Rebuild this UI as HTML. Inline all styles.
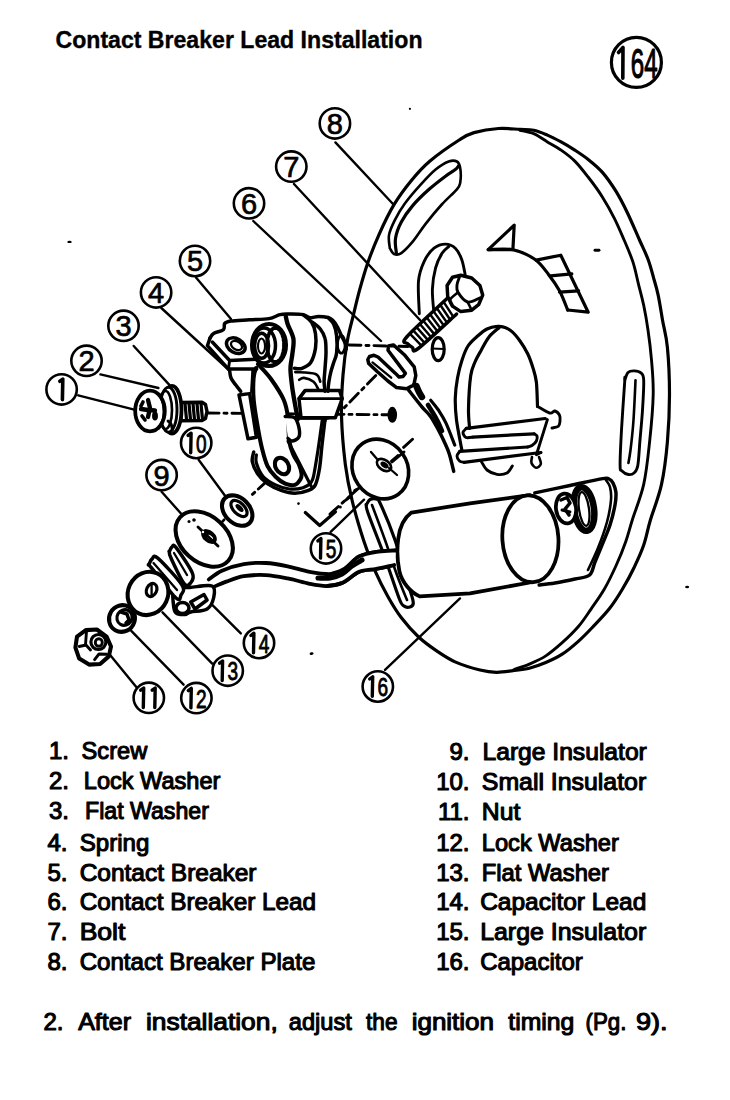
<!DOCTYPE html>
<html><head><meta charset="utf-8"><style>
html,body{margin:0;padding:0;background:#fff;}
svg{display:block;}
text{font-family:"Liberation Sans", sans-serif;fill:#000;stroke:#000;stroke-width:1.1px;stroke-linejoin:round;}
</style></head><body>
<svg width="730" height="1100" viewBox="0 0 730 1100">
<rect width="730" height="1100" fill="#fff"/>
<g stroke="#000" stroke-linecap="round" stroke-linejoin="round" fill="none">
<text x="55.5" y="48.3" font-size="23" font-weight="bold" textLength="367.0" lengthAdjust="spacingAndGlyphs" style="stroke-width:0.35px">Contact Breaker Lead Installation</text>
<circle cx="636.4" cy="62.4" r="25" stroke-width="3.2" fill="none"/>
<path d="M618.5,52.5 L623,47.5 L622.8,78.2" stroke-width="3.6" fill="none"/>
<text x="644.2" y="78.3" font-size="43" text-anchor="middle" transform="translate(644.2 0) scale(0.56 1) translate(-644.2 0)" style="stroke:#000;stroke-width:1.2">64</text>
<text x="49.0" y="758.7" font-size="24" font-weight="normal" text-anchor="start" >1.</text>
<text x="81.6" y="758.7" font-size="24" font-weight="normal" textLength="65.6" lengthAdjust="spacingAndGlyphs" >Screw</text>
<text x="49.0" y="788.9" font-size="24" font-weight="normal" text-anchor="start" >2.</text>
<text x="83.8" y="788.9" font-size="24" font-weight="normal" textLength="136.6" lengthAdjust="spacingAndGlyphs" >Lock Washer</text>
<text x="49.0" y="819.2" font-size="24" font-weight="normal" text-anchor="start" >3.</text>
<text x="85.0" y="819.2" font-size="24" font-weight="normal" textLength="123.9" lengthAdjust="spacingAndGlyphs" >Flat Washer</text>
<text x="47.5" y="850.6" font-size="24" font-weight="normal" text-anchor="start" >4.</text>
<text x="79.7" y="850.6" font-size="24" font-weight="normal" textLength="69.6" lengthAdjust="spacingAndGlyphs" >Spring</text>
<text x="47.5" y="880.6" font-size="24" font-weight="normal" text-anchor="start" >5.</text>
<text x="79.7" y="880.6" font-size="24" font-weight="normal" textLength="176.8" lengthAdjust="spacingAndGlyphs" >Contact Breaker</text>
<text x="47.5" y="910.4" font-size="24" font-weight="normal" text-anchor="start" >6.</text>
<text x="79.7" y="910.4" font-size="24" font-weight="normal" textLength="236.4" lengthAdjust="spacingAndGlyphs" >Contact Breaker Lead</text>
<text x="47.5" y="940.2" font-size="24" font-weight="normal" text-anchor="start" >7.</text>
<text x="79.7" y="940.2" font-size="24" font-weight="normal" textLength="45.7" lengthAdjust="spacingAndGlyphs" >Bolt</text>
<text x="47.5" y="970.1" font-size="24" font-weight="normal" text-anchor="start" >8.</text>
<text x="79.7" y="970.1" font-size="24" font-weight="normal" textLength="235.6" lengthAdjust="spacingAndGlyphs" >Contact Breaker Plate</text>
<text x="469.5" y="760.4" font-size="24" font-weight="normal" text-anchor="end" >9.</text>
<text x="482.5" y="760.4" font-size="24" font-weight="normal" textLength="164.3" lengthAdjust="spacingAndGlyphs" >Large Insulator</text>
<text x="469.5" y="789.6" font-size="24" font-weight="normal" text-anchor="end" >10.</text>
<text x="481.8" y="789.6" font-size="24" font-weight="normal" textLength="164.4" lengthAdjust="spacingAndGlyphs" >Small Insulator</text>
<text x="469.5" y="819.6" font-size="24" font-weight="normal" text-anchor="end" >11.</text>
<text x="481.8" y="819.6" font-size="24" font-weight="normal" textLength="38.5" lengthAdjust="spacingAndGlyphs" >Nut</text>
<text x="469.5" y="850.6" font-size="24" font-weight="normal" text-anchor="end" >12.</text>
<text x="481.8" y="850.6" font-size="24" font-weight="normal" textLength="137.1" lengthAdjust="spacingAndGlyphs" >Lock Washer</text>
<text x="469.5" y="880.8" font-size="24" font-weight="normal" text-anchor="end" >13.</text>
<text x="481.8" y="880.8" font-size="24" font-weight="normal" textLength="127.2" lengthAdjust="spacingAndGlyphs" >Flat Washer</text>
<text x="469.5" y="910.2" font-size="24" font-weight="normal" text-anchor="end" >14.</text>
<text x="480.2" y="910.2" font-size="24" font-weight="normal" textLength="166.1" lengthAdjust="spacingAndGlyphs" >Capacitor Lead</text>
<text x="469.5" y="940.2" font-size="24" font-weight="normal" text-anchor="end" >15.</text>
<text x="480.2" y="940.2" font-size="24" font-weight="normal" textLength="166.0" lengthAdjust="spacingAndGlyphs" >Large Insulator</text>
<text x="469.5" y="969.9" font-size="24" font-weight="normal" text-anchor="end" >16.</text>
<text x="480.2" y="969.9" font-size="24" font-weight="normal" textLength="102.5" lengthAdjust="spacingAndGlyphs" >Capacitor</text>
<text x="43.5" y="1030.1" font-size="24" font-weight="normal" text-anchor="start" >2.</text>
<text x="78.2" y="1030.1" font-size="24" font-weight="normal" textLength="52.8" lengthAdjust="spacingAndGlyphs" >After</text>
<text x="146.0" y="1030.1" font-size="24" font-weight="normal" textLength="131.7" lengthAdjust="spacingAndGlyphs" >installation,</text>
<text x="288.8" y="1030.1" font-size="24" font-weight="normal" textLength="63.0" lengthAdjust="spacingAndGlyphs" >adjust</text>
<text x="366.0" y="1030.1" font-size="24" font-weight="normal" textLength="31.5" lengthAdjust="spacingAndGlyphs" >the</text>
<text x="411.7" y="1030.1" font-size="24" font-weight="normal" textLength="82.3" lengthAdjust="spacingAndGlyphs" >ignition</text>
<text x="508.3" y="1030.1" font-size="24" font-weight="normal" textLength="66.0" lengthAdjust="spacingAndGlyphs" >timing</text>
<text x="585.5" y="1030.1" font-size="24" font-weight="normal" textLength="40.9" lengthAdjust="spacingAndGlyphs" >(Pg.</text>
<text x="635.9" y="1030.1" font-size="24" font-weight="normal" textLength="31.6" lengthAdjust="spacingAndGlyphs" >9).</text>
<line x1="335.4" y1="142.4" x2="393" y2="204" stroke-width="2.40" />
<line x1="294" y1="184" x2="420" y2="320" stroke-width="2.40" />
<line x1="253.3" y1="221" x2="381" y2="341" stroke-width="2.40" />
<line x1="196" y1="277.5" x2="231" y2="319" stroke-width="2.40" />
<line x1="161.3" y1="308" x2="229" y2="370" stroke-width="2.40" />
<line x1="133.7" y1="346" x2="174.4" y2="390.4" stroke-width="2.40" />
<line x1="100.4" y1="374.4" x2="158.4" y2="388" stroke-width="2.40" />
<line x1="78.2" y1="395.3" x2="136.2" y2="410.1" stroke-width="2.40" />
<line x1="198.6" y1="459.7" x2="225.8" y2="496.7" stroke-width="2.40" />
<line x1="161.6" y1="491.8" x2="181.4" y2="514" stroke-width="2.40" />
<line x1="330.7" y1="531.8" x2="364" y2="499.7" stroke-width="2.40" />
<line x1="240.8" y1="633.4" x2="207.7" y2="600.3" stroke-width="2.40" />
<line x1="212.2" y1="663.6" x2="162.5" y2="612.3" stroke-width="2.40" />
<line x1="183.6" y1="684.7" x2="130.8" y2="630.4" stroke-width="2.40" />
<line x1="136.9" y1="687.7" x2="109.7" y2="654.5" stroke-width="2.40" />
<line x1="385" y1="669.9" x2="460" y2="598.4" stroke-width="2.40" />
<circle cx="334.9" cy="123.4" r="15.2" stroke-width="2.6" fill="#fff"/>
<text x="334.9" y="133.8" font-size="29" text-anchor="middle" style="stroke:#000;stroke-width:0.7">8</text>
<circle cx="291.3" cy="166.6" r="15.2" stroke-width="2.6" fill="#fff"/>
<text x="291.3" y="177.0" font-size="29" text-anchor="middle" style="stroke:#000;stroke-width:0.7">7</text>
<circle cx="249" cy="203.3" r="15.2" stroke-width="2.6" fill="#fff"/>
<text x="249.0" y="213.7" font-size="29" text-anchor="middle" style="stroke:#000;stroke-width:0.7">6</text>
<circle cx="195" cy="261" r="15.2" stroke-width="2.6" fill="#fff"/>
<text x="195.0" y="271.4" font-size="29" text-anchor="middle" style="stroke:#000;stroke-width:0.7">5</text>
<circle cx="156.1" cy="292.4" r="15.2" stroke-width="2.6" fill="#fff"/>
<text x="156.1" y="302.8" font-size="29" text-anchor="middle" style="stroke:#000;stroke-width:0.7">4</text>
<circle cx="123.5" cy="325.8" r="15.2" stroke-width="2.6" fill="#fff"/>
<text x="123.5" y="336.2" font-size="29" text-anchor="middle" style="stroke:#000;stroke-width:0.7">3</text>
<circle cx="86.5" cy="360.8" r="15.2" stroke-width="2.6" fill="#fff"/>
<text x="86.5" y="371.2" font-size="29" text-anchor="middle" style="stroke:#000;stroke-width:0.7">2</text>
<circle cx="61.6" cy="389.4" r="15.2" stroke-width="2.6" fill="#fff"/>
<path d="M59.8,381.3 L62.8,379.1 L62.4,399.6" stroke-width="3.6" fill="none"/>
<circle cx="196.2" cy="443" r="15.2" stroke-width="2.6" fill="#fff"/>
<path d="M188.1,435.4 L191.1,433.2 L190.7,452.8" stroke-width="3.4" fill="none"/>
<text x="201.2" y="452.6" font-size="26.5" text-anchor="middle" transform="translate(201.2 0) scale(0.72 1) translate(-201.2 0)" style="stroke:#000;stroke-width:0.9">0</text>
<circle cx="161.6" cy="475.1" r="15.2" stroke-width="2.6" fill="#fff"/>
<text x="161.6" y="485.5" font-size="29" text-anchor="middle" style="stroke:#000;stroke-width:0.7">9</text>
<circle cx="326" cy="548.4" r="15.2" stroke-width="2.6" fill="#fff"/>
<path d="M317.9,540.9 L320.9,538.6 L320.5,558.1" stroke-width="3.4" fill="none"/>
<text x="331.0" y="558.0" font-size="26.5" text-anchor="middle" transform="translate(331.0 0) scale(0.72 1) translate(-331.0 0)" style="stroke:#000;stroke-width:0.9">5</text>
<circle cx="259" cy="643" r="15.2" stroke-width="2.6" fill="#fff"/>
<path d="M250.9,635.5 L253.9,633.2 L253.5,652.8" stroke-width="3.4" fill="none"/>
<text x="264.0" y="652.6" font-size="26.5" text-anchor="middle" transform="translate(264.0 0) scale(0.72 1) translate(-264.0 0)" style="stroke:#000;stroke-width:0.9">4</text>
<circle cx="227.7" cy="670.7" r="15.2" stroke-width="2.6" fill="#fff"/>
<path d="M219.6,663.2 L222.6,661.0 L222.2,680.5" stroke-width="3.4" fill="none"/>
<text x="232.7" y="680.3" font-size="26.5" text-anchor="middle" transform="translate(232.7 0) scale(0.72 1) translate(-232.7 0)" style="stroke:#000;stroke-width:0.9">3</text>
<circle cx="377.8" cy="686.5" r="15.2" stroke-width="2.6" fill="#fff"/>
<path d="M369.7,679.0 L372.7,676.8 L372.3,696.2" stroke-width="3.4" fill="none"/>
<text x="382.8" y="696.1" font-size="26.5" text-anchor="middle" transform="translate(382.8 0) scale(0.72 1) translate(-382.8 0)" style="stroke:#000;stroke-width:0.9">6</text>
<circle cx="148.8" cy="697.8" r="15.2" stroke-width="2.6" fill="#fff"/>
<path d="M140.7,690.2 L143.7,688.0 L143.3,707.5" stroke-width="3.4" fill="none"/>
<path d="M152.2,690.2 L155.2,688.0 L154.8,707.5" stroke-width="3.4" fill="none"/>
<circle cx="196.4" cy="698.1" r="15.2" stroke-width="2.6" fill="#fff"/>
<path d="M188.3,690.6 L191.3,688.4 L190.9,707.9" stroke-width="3.4" fill="none"/>
<text x="201.4" y="707.7" font-size="26.5" text-anchor="middle" transform="translate(201.4 0) scale(0.72 1) translate(-201.4 0)" style="stroke:#000;stroke-width:0.9">2</text>
<path d="M498.6,128.5 C506.3,128.0 514.1,129.1 520.0,129.4 C525.9,129.7 529.1,129.4 533.7,130.3 C538.3,131.2 542.8,133.2 547.4,135.1 C552.0,137.0 556.5,139.4 561.1,141.9 C565.7,144.4 570.2,147.1 574.8,150.1 C579.4,153.1 583.9,156.0 588.5,159.7 C593.1,163.4 597.6,166.8 602.2,172.1 C606.8,177.3 611.7,184.4 615.9,191.2 C620.1,198.0 623.6,204.9 627.5,213.0 C631.4,221.1 636.0,232.2 639.5,240.0 C643.0,247.8 645.8,253.3 648.2,259.7 C650.6,266.1 652.1,272.5 653.7,278.4 C655.4,284.2 656.6,287.9 658.1,294.8 C659.6,301.7 661.0,311.2 662.5,320.0 C664.0,328.8 666.2,334.9 667.4,347.3 C668.6,359.7 669.5,378.9 669.5,394.6 C669.5,410.4 668.7,426.8 667.4,441.8 C666.1,456.8 664.3,471.4 661.5,484.4 C658.7,497.4 653.4,509.9 650.4,520.0 C647.4,530.0 646.5,536.8 643.8,544.7 C641.1,552.7 637.5,560.3 634.0,567.7 C630.5,575.1 626.6,582.1 622.5,589.0 C618.4,595.9 614.4,602.3 609.3,608.8 C604.2,615.3 596.9,622.6 591.8,628.0 C586.7,633.4 583.5,636.7 578.6,641.1 C573.7,645.5 567.7,650.6 562.2,654.2 C556.7,657.8 551.3,660.2 545.8,662.5 C540.3,664.8 534.8,666.8 529.3,668.2 C523.8,669.6 518.4,670.0 512.9,670.7 C507.4,671.4 501.9,672.4 496.4,672.3 C490.9,672.2 486.9,671.7 480.0,670.0 C473.1,668.3 462.5,665.2 455.1,661.9 C447.8,658.6 442.0,654.5 435.9,650.4 C429.8,646.2 424.4,642.4 418.6,637.0 C412.9,631.6 406.5,624.5 401.4,617.8 C396.3,611.1 392.3,604.4 388.0,596.7 C383.7,589.0 379.5,581.0 375.5,571.8 C371.5,562.6 367.9,553.6 364.0,541.6 C360.1,529.6 355.1,512.9 352.0,500.0 C348.9,487.1 347.1,478.3 345.3,464.3 C343.6,450.3 341.9,430.9 341.5,416.0 C341.1,401.1 342.0,387.7 343.0,375.0 C344.0,362.3 345.7,350.1 347.5,340.0 C349.3,329.9 351.6,322.6 353.6,314.2 C355.6,305.8 357.3,298.3 359.7,289.6 C362.1,280.9 364.8,271.3 368.0,262.2 C371.2,253.1 374.6,244.4 378.9,234.8 C383.2,225.2 388.5,213.8 394.0,204.7 C399.5,195.6 405.8,187.3 411.8,180.0 C417.8,172.7 422.1,167.7 430.0,161.0 C437.9,154.3 451.9,144.7 459.2,140.0 C466.5,135.3 467.4,134.5 474.0,132.6 C480.6,130.7 490.9,129.0 498.6,128.5Z" stroke-width="3.19" fill="none" />
<path d="M520.0,130.3 C522.3,130.9 529.1,131.8 533.7,133.7 C538.3,135.6 542.8,139.2 547.4,141.9 C552.0,144.6 556.5,146.9 561.1,150.1 C565.7,153.3 570.2,156.5 574.8,161.1 C579.4,165.7 583.9,171.6 588.5,177.5 C593.1,183.4 597.9,189.8 602.2,196.7 C606.5,203.5 610.9,211.4 614.5,218.6 C618.1,225.8 621.0,232.8 624.1,240.0 C627.2,247.2 630.5,254.6 632.9,261.9 C635.3,269.2 636.6,276.5 638.4,283.8 C640.2,291.1 642.2,298.1 643.8,305.8 C645.4,313.5 646.7,321.0 648.0,330.0 C649.3,339.0 650.6,349.2 651.5,360.0 C652.4,370.8 653.5,381.0 653.2,394.6 C652.9,408.2 651.2,426.8 649.6,441.8 C648.0,456.8 646.6,471.4 643.7,484.4 C640.8,497.4 635.3,510.5 632.3,520.0 C629.3,529.5 628.5,533.7 625.8,541.4 C623.1,549.1 619.5,558.1 615.9,566.0 C612.3,573.9 608.5,581.9 604.4,589.0 C600.3,596.1 595.5,602.6 591.2,608.8 C586.9,615.0 583.4,620.6 578.6,626.3 C573.8,631.9 567.7,637.8 562.2,642.7 C556.7,647.6 551.3,652.3 545.8,655.9 C540.3,659.5 534.6,661.8 529.3,664.1 C524.0,666.4 516.5,668.6 514.0,669.5" stroke-width="2.90" fill="none" />
<path d="M389.8,248.2 C389.7,246.0 388.2,239.7 389.0,235.1 C389.8,230.5 392.1,225.6 394.7,220.4 C397.3,215.2 400.1,210.0 404.5,204.0 C408.9,198.0 415.7,190.1 420.9,184.4 C426.1,178.7 431.0,173.4 435.6,169.6 C440.2,165.8 445.1,162.8 448.7,161.5 C452.2,160.2 455.0,160.4 456.9,161.5 C458.8,162.6 459.6,164.5 460.2,168.0 C460.8,171.5 460.8,179.1 460.2,182.7 C459.6,186.2 459.9,185.8 456.9,189.3 C453.9,192.9 447.4,198.3 442.2,204.0 C437.0,209.7 430.7,217.3 425.8,223.6 C420.9,229.9 416.8,236.8 412.7,241.7 C408.6,246.6 404.4,251.0 401.3,253.1 C398.2,255.2 395.9,254.8 394.0,254.0 C392.1,253.2 390.5,249.2 389.8,248.2" stroke-width="2.61" fill="none" />
<path d="M396.4,253.1 C396.2,250.7 394.7,243.6 395.5,238.4 C396.3,233.2 398.4,227.5 401.3,222.0 C404.2,216.5 408.1,211.0 412.7,205.6 C417.3,200.2 423.6,194.2 429.1,189.3 C434.6,184.4 441.1,179.5 445.5,176.2 C449.9,172.9 453.1,171.3 455.3,169.6 C457.5,167.9 458.0,166.6 458.5,166.0" stroke-width="3.19" fill="none" />
<path d="M419.3,313.7 C419.2,308.2 417.7,289.7 418.5,281.0 C419.3,272.3 421.6,266.8 424.2,261.3 C426.8,255.8 430.4,251.1 434.0,248.2 C437.6,245.3 441.9,244.1 445.5,244.1 C449.1,244.1 452.6,245.6 455.3,248.2 C458.0,250.8 460.2,255.3 461.8,259.7 C463.4,264.1 464.6,271.9 465.1,274.4" stroke-width="2.90" fill="none" />
<path d="M434.0,313.7 C433.7,309.6 432.1,296.8 432.4,289.1 C432.7,281.5 434.0,273.8 435.6,267.8 C437.2,261.8 440.0,256.6 442.2,253.1 C444.4,249.6 447.6,247.7 448.7,246.6" stroke-width="2.90" fill="none" />
<path d="M488.2,249.7 L514.2,225.1 L512.9,249.7Z" stroke-width="3.19" fill="none" />
<path d="M488.2,249.7 C492.3,249.7 505.1,248.1 512.9,249.7 C520.7,251.3 528.9,255.2 534.8,259.3 C540.7,263.4 544.4,269.1 548.5,274.4 C552.6,279.6 556.3,284.9 559.5,290.8 C562.7,296.7 566.3,306.8 567.7,310.0" stroke-width="3.19" fill="none" />
<path d="M536.2,260.1 L560.8,255.2 L588.2,312.2 L567.7,310.0" stroke-width="3.19" fill="none" />
<line x1="550.7" y1="275.8" x2="571.8" y2="273.8" stroke-width="3.19" />
<line x1="559.5" y1="292.2" x2="578.6" y2="290.8" stroke-width="3.19" />
<line x1="595" y1="250.3" x2="599" y2="250.3" stroke-width="2.90" />
<path d="M624.8,380.4 C625.3,379.1 626.4,374.1 628.0,372.5 C629.6,370.9 632.1,370.8 634.3,370.9 C636.5,371.0 639.4,371.4 641.0,373.0 C642.6,374.6 643.5,374.2 643.7,380.4 C644.0,386.6 643.1,400.1 642.5,410.0 C641.9,419.9 640.8,430.8 640.0,440.0 C639.2,449.2 638.8,460.0 637.8,465.5 C636.8,471.0 635.6,471.5 634.0,473.0 C632.4,474.5 630.4,474.8 628.4,474.5 C626.4,474.2 623.4,472.5 622.0,471.0 C620.6,469.5 620.2,472.3 620.1,465.5 C620.0,458.7 620.7,444.2 621.5,430.0 C622.3,415.8 624.2,388.7 624.8,380.4 C625.3,372.1 624.3,381.7 624.8,380.4Z" stroke-width="2.90" fill="none" />
<path d="M635.5,380.4 C635.2,387.0 634.3,408.4 633.5,420.0 C632.7,431.6 631.4,442.8 630.5,450.0 C629.6,457.2 628.8,460.8 628.4,463.0" stroke-width="2.61" fill="none" />
<path d="M461.9,450.3 C461.0,445.2 457.6,428.8 456.5,420.0 C455.4,411.2 455.1,404.7 455.3,397.7 C455.5,390.7 456.4,384.2 457.5,378.0 C458.6,371.8 460.1,365.7 461.9,360.4 C463.6,355.1 465.4,350.0 468.0,346.0 C470.6,342.0 474.1,339.1 477.3,336.3 C480.5,333.5 483.7,330.6 487.0,329.0 C490.3,327.4 494.0,326.6 497.0,326.4 C500.0,326.1 502.4,326.6 505.0,327.5 C507.6,328.4 509.8,329.6 512.3,331.9 C514.8,334.1 517.4,337.4 520.0,341.0 C522.6,344.6 525.5,349.3 527.7,353.8 C529.9,358.3 531.5,363.2 533.0,368.0 C534.5,372.8 535.6,375.9 536.4,382.3 C537.1,388.7 537.3,402.4 537.5,406.4" stroke-width="3.19" fill="none" />
<path d="M499.2,327.5 C497.5,329.1 491.9,333.3 489.0,337.0 C486.1,340.7 483.9,345.3 481.6,349.5 C479.3,353.7 476.8,357.6 475.0,362.0 C473.2,366.4 471.8,368.0 470.7,375.8 C469.6,383.6 468.7,399.8 468.5,408.6 C468.3,417.4 469.4,425.1 469.6,428.4" stroke-width="3.19" fill="none" />
<path d="M537.5,406.4 C539.5,407.5 546.7,412.2 549.6,413.0 C552.5,413.8 553.4,410.6 555.0,411.0 C556.6,411.4 558.7,413.5 559.5,415.2 C560.3,416.9 560.2,419.2 560.0,421.0 C559.8,422.8 559.7,425.0 558.4,426.2 C557.1,427.4 553.1,427.7 552.0,428.0" stroke-width="2.90" fill="none" />
<path d="M466.3,428.4 L545.2,418.5" stroke-width="3.19" fill="none" />
<path d="M472.9,437.1 L534.2,433.8" stroke-width="3.19" fill="none" />
<path d="M466.3,428.4 C465.8,429.1 463.1,431.0 463.0,432.5 C462.9,434.0 464.4,436.7 466.0,437.5 C467.6,438.3 471.8,437.2 472.9,437.1" stroke-width="2.90" fill="none" />
<path d="M534.2,433.8 C534.7,434.2 536.6,434.8 537.0,436.0 C537.4,437.2 537.2,439.4 536.4,441.0 C535.6,442.6 533.5,444.5 532.0,445.5 C530.5,446.5 528.4,446.8 527.7,447.0" stroke-width="2.90" fill="none" />
<path d="M459.7,451.4 L527.7,447.0" stroke-width="3.19" fill="none" />
<path d="M464.1,462.3 L540.8,452.5" stroke-width="3.19" fill="none" />
<path d="M459.7,451.4 C459.2,452.2 457.0,454.4 457.0,456.0 C457.0,457.6 458.3,459.9 459.5,461.0 C460.7,462.1 463.3,462.1 464.1,462.3" stroke-width="2.90" fill="none" />
<path d="M547.4,419.6 L536.4,454.7 L540.8,452.5" stroke-width="2.90" fill="none" />
<path d="M481.6,462.0 C482.5,463.3 484.4,467.9 487.0,470.0 C489.6,472.1 493.7,473.9 497.0,474.4 C500.3,474.9 504.4,474.4 507.0,473.0 C509.6,471.6 511.4,467.2 512.3,466.0" stroke-width="2.90" fill="none" />
<path d="M532.0,457.0 C531.9,458.0 530.8,461.2 531.5,463.0 C532.2,464.8 534.5,467.6 536.0,467.8 C537.5,468.0 540.3,465.8 540.8,464.0 C541.3,462.2 539.3,458.2 539.0,457.0" stroke-width="2.61" fill="none" />
<path d="M447.0,298.6 C440.3,305.0 413.2,329.5 406.7,337.0 C400.1,344.5 406.7,341.9 407.7,343.7 C408.7,345.4 410.8,346.7 412.5,347.5 C414.2,348.3 410.8,354.1 418.2,348.5 C425.6,342.9 450.2,319.8 456.6,314.0" stroke-width="3.48" fill="#fff" />
<line x1="443.6" y1="301.8" x2="453.4" y2="316.9" stroke-width="2.46" />
<line x1="440.3" y1="305.0" x2="450.2" y2="319.8" stroke-width="2.46" />
<line x1="436.9" y1="308.2" x2="447.0" y2="322.6" stroke-width="2.46" />
<line x1="433.6" y1="311.4" x2="443.8" y2="325.5" stroke-width="2.46" />
<line x1="430.2" y1="314.6" x2="440.6" y2="328.4" stroke-width="2.46" />
<line x1="426.9" y1="317.8" x2="437.4" y2="331.2" stroke-width="2.46" />
<line x1="423.5" y1="321.0" x2="434.2" y2="334.1" stroke-width="2.46" />
<line x1="420.1" y1="324.2" x2="431.0" y2="337.0" stroke-width="2.46" />
<line x1="416.8" y1="327.4" x2="427.8" y2="339.9" stroke-width="2.46" />
<line x1="413.4" y1="330.6" x2="424.6" y2="342.8" stroke-width="2.46" />
<line x1="410.1" y1="333.8" x2="421.4" y2="345.6" stroke-width="2.46" />
<path d="M447.1,285.5 L452.5,277.3 L460.8,275.3 L471.7,278.0 L479.9,285.5 L482.7,295.1 L478.6,304.7 L471.7,310.2 L460.8,311.6 L452.5,306.1 L447.7,296.5Z" stroke-width="3.48" fill="#fff" />
<path d="M459.4,277.3 C459.0,278.6 457.2,282.5 457.0,285.0 C456.8,287.5 456.2,289.6 458.0,292.4 C459.8,295.2 463.9,301.1 467.6,302.0 C471.3,302.9 477.9,298.6 480.0,297.9" stroke-width="2.90" fill="none" />
<path d="M458.0,292.4 C456.7,293.7 450.9,297.7 450.0,300.0 C449.1,302.3 452.1,305.1 452.5,306.1" stroke-width="2.61" fill="none" />
<line x1="467.6" y1="302" x2="471.7" y2="310.2" stroke-width="2.61" />
<ellipse cx="438.2" cy="349.2" rx="6" ry="11.5" transform="rotate(0 438.2 349.2)" stroke-width="3.19" fill="none" />
<line x1="432" y1="348.5" x2="444" y2="349" stroke-width="2.03" />
<path d="M408.8,390.3 C411.0,393.1 418.2,402.4 421.9,406.8 C425.5,411.2 427.9,412.8 430.7,416.6 C433.4,420.4 436.2,425.8 438.4,429.8 C440.6,433.8 442.0,436.8 443.8,440.8 C445.6,444.8 447.7,448.8 449.3,453.9 C450.9,459.0 453.0,468.5 453.7,471.4" stroke-width="3.48" fill="none" />
<path d="M430.7,400.2 C432.0,401.8 435.8,406.2 438.4,410.0 C440.9,413.8 443.3,417.3 446.0,423.2 C448.7,429.1 453.3,441.5 454.8,445.1" stroke-width="3.19" fill="none" />
<path d="M416.4,386.0 C416.8,387.0 418.1,390.2 419.0,392.0 C419.9,393.8 421.4,396.1 421.9,396.9" stroke-width="6.52" fill="none" />
<path d="M428.0,405.0 C428.8,406.3 431.3,410.2 433.0,413.0 C434.7,415.8 436.5,419.0 438.0,422.0 C439.5,425.0 441.3,429.5 442.0,431.0" stroke-width="4.64" fill="none" />
<path d="M369.5,356.5 L374.0,355.3 L378.0,357.0 L395.5,373.4 L399.0,377.0 L403.0,376.5 L405.4,373.4 L388.0,350.3 L388.5,346.0 L393.4,344.9 L404.3,354.7 L414.2,366.8 L415.8,375.5 L414.2,383.2 L413.1,385.4 L406.5,388.7 L396.6,387.6 L387.9,381.0 L376.9,371.2 L368.7,363.5 L367.8,359.5Z" stroke-width="3.48" fill="#fff" />
<line x1="372.5" y1="362.4" x2="391.2" y2="377.7" stroke-width="2.32" />
<line x1="389.5" y1="352.5" x2="402.1" y2="369" stroke-width="2.32" />
<line x1="207" y1="413" x2="392" y2="414.8" stroke-width="2.90" stroke-dasharray="12 5 3 5"/>
<line x1="349" y1="345" x2="408" y2="346.5" stroke-width="2.90" stroke-dasharray="12 5 3 5"/>
<line x1="412.5" y1="439.3" x2="330" y2="514.1" stroke-width="2.90" stroke-dasharray="12 5 3 5"/>
<line x1="375.8" y1="375.5" x2="341.5" y2="410.5" stroke-width="2.90" stroke-dasharray="12 5 3 5"/>
<line x1="322.7" y1="430.4" x2="250.4" y2="496.2" stroke-width="2.90" stroke-dasharray="12 5 3 5"/>
<ellipse cx="392.3" cy="414.8" rx="4.8" ry="8" transform="rotate(0 392.3 414.8)" stroke-width="0.00" fill="#000" />
<path d="M324.9,420.5 C324.4,424.6 322.9,437.0 322.0,445.0 C321.1,453.0 320.6,461.9 319.5,468.5 C318.4,475.1 317.1,481.2 315.3,484.9 C313.5,488.5 311.9,489.0 308.5,490.4 C305.1,491.8 299.4,493.2 294.8,493.2 C290.2,493.2 285.7,492.0 281.1,490.4 C276.5,488.8 271.3,486.3 267.4,483.6 C263.5,480.9 260.3,477.7 257.8,474.0 C255.3,470.3 253.0,465.3 252.3,461.6 C251.6,457.9 253.5,453.6 253.7,452.0" stroke-width="3.48" fill="#fff" />
<path d="M322.2,420.5 C321.5,425.4 319.4,441.1 318.0,450.0 C316.6,458.9 315.1,468.6 314.0,474.0 C312.9,479.4 313.0,479.9 311.2,482.2 C309.4,484.5 306.6,486.6 303.0,487.7 C299.4,488.8 293.9,489.5 289.3,489.0 C284.7,488.5 279.9,486.9 275.6,484.9 C271.3,482.8 266.5,480.3 263.3,476.7 C260.1,473.1 257.5,466.6 256.4,463.0 C255.2,459.4 256.4,456.2 256.4,454.8" stroke-width="3.19" fill="none" />
<path d="M258.0,364.2 C260.2,366.7 266.7,373.0 271.0,379.0 C275.3,385.0 281.0,393.5 283.8,400.0 C286.6,406.5 287.1,410.9 288.0,417.8 C288.9,424.7 288.4,434.9 289.3,441.1 C290.2,447.3 291.8,450.9 293.4,454.8 C295.0,458.7 297.5,461.2 298.9,464.4 C300.3,467.6 301.4,471.5 301.6,474.0 C301.8,476.5 301.4,477.7 300.3,479.5 C299.2,481.3 297.3,484.2 294.8,484.9 C292.3,485.6 288.4,485.0 285.2,483.6 C282.0,482.2 278.6,479.7 275.6,476.7 C272.6,473.7 269.7,470.6 267.4,465.8 C265.1,461.0 263.5,454.4 261.9,448.0 C260.3,441.6 259.2,435.4 257.8,427.4 C256.4,419.4 254.4,408.2 253.7,400.0 C253.0,391.8 253.2,383.3 253.6,378.0 C254.0,372.7 255.6,369.7 256.0,368.0" stroke-width="4.06" fill="#fff" />
<ellipse cx="282" cy="466" rx="6.5" ry="8.8" transform="rotate(-30 282 466)" stroke-width="4.06" fill="none" />
<path d="M288.0,441.1 L311.2,486.3" stroke-width="3.19" fill="none" />
<path d="M239.0,395.0 L249.6,393.6 L256.4,437.3 L248.0,438.8Z" stroke-width="3.48" fill="#fff" />
<path d="M324.9,420.5 L327.9,391.3" stroke-width="3.48" fill="none" />
<line x1="294.8" y1="417.8" x2="327.7" y2="417.8" stroke-width="3.77" />
<path d="M294.8,419.2 L297.8,419.2" stroke-width="2.17" fill="none" />
<path d="M285.2,416.4 C286.8,416.6 292.5,416.0 294.8,417.8 C297.1,419.6 298.2,424.2 298.9,427.4 C299.6,430.6 300.0,434.7 298.9,437.0 C297.8,439.3 293.8,440.9 292.0,441.1 C290.2,441.3 288.7,438.8 288.0,438.4" stroke-width="3.48" fill="#fff" />
<path d="M305.2,390.4 L339.5,390.4 L342.2,398.6 L335.3,417.8 L301.0,417.8 L299.0,398.6Z" stroke-width="3.48" fill="#fff" />
<line x1="299" y1="398.6" x2="342.2" y2="398.6" stroke-width="2.90" />
<line x1="305.2" y1="390.4" x2="299" y2="398.6" stroke-width="2.61" />
<path d="M209.9,338.3 C210.5,337.5 211.3,334.8 213.6,333.4 C215.8,332.0 221.6,331.3 223.4,329.7 C225.2,328.1 223.5,324.9 224.7,323.5 C225.9,322.1 226.7,321.6 230.8,321.0 C234.9,320.4 242.9,320.2 249.3,319.8 C255.7,319.4 263.9,319.5 269.0,318.6 C274.1,317.7 276.6,315.4 280.0,314.6 C283.4,313.9 285.8,314.1 289.6,314.1 C293.4,314.1 299.8,314.0 303.0,314.6 C306.2,315.2 307.2,317.0 308.8,317.5 C310.4,318.0 311.0,317.7 312.6,317.5 C314.2,317.3 315.8,316.5 318.4,316.5 C321.0,316.5 325.6,316.9 328.0,317.5 C330.4,318.1 331.1,318.7 332.7,320.3 C334.3,321.9 336.1,324.4 337.5,327.0 C338.9,329.6 340.1,333.0 341.4,335.7 C342.7,338.4 344.4,341.2 345.2,343.4 C346.0,345.6 346.0,348.2 346.2,349.1" stroke-width="3.48" fill="none" />
<path d="M209.9,338.3 L207.4,345.7 L228.4,369.1 L256.7,369.1" stroke-width="3.48" fill="none" />
<path d="M212.3,342.0 L229.6,360.5 L256.7,359.2" stroke-width="3.48" fill="none" />
<line x1="228.4" y1="369.1" x2="229.6" y2="360.5" stroke-width="2.90" />
<path d="M229.6,370.3 C229.8,371.6 230.0,375.5 231.0,378.0 C232.0,380.5 234.2,382.9 235.8,385.1 C237.4,387.3 239.9,390.3 240.7,391.3" stroke-width="3.48" fill="none" />
<path d="M253.0,370.3 C252.9,371.9 252.7,376.5 252.5,380.0 C252.3,383.5 251.9,389.4 251.8,391.3" stroke-width="3.48" fill="none" />
<ellipse cx="235.8" cy="345.7" rx="10" ry="7" transform="rotate(30 235.8 345.7)" stroke-width="3.48" fill="none" />
<ellipse cx="236.5" cy="345.5" rx="6" ry="4" transform="rotate(30 236.5 345.5)" stroke-width="2.32" fill="none" />
<ellipse cx="269" cy="345" rx="17" ry="21" transform="rotate(0 269 345)" stroke-width="4.06" fill="#fff" />
<ellipse cx="275.5" cy="345" rx="8.5" ry="17" transform="rotate(0 275.5 345)" stroke-width="3.77" fill="none" stroke-dasharray="2.2 1.8"/>
<ellipse cx="264" cy="345.5" rx="11.5" ry="17.5" transform="rotate(0 264 345.5)" stroke-width="3.48" fill="none" />
<ellipse cx="261.6" cy="345.8" rx="7" ry="12.5" transform="rotate(0 261.6 345.8)" stroke-width="3.48" fill="none" />
<ellipse cx="261.5" cy="346" rx="3.5" ry="7.5" transform="rotate(0 261.5 346)" stroke-width="2.03" fill="none" />
<path d="M285.8,316.5 C286.1,317.8 286.4,320.5 287.7,324.2 C289.0,327.9 292.6,333.8 293.4,338.6 C294.2,343.4 293.0,348.2 292.5,353.0 C292.0,357.8 290.7,362.5 290.5,367.3 C290.3,372.1 291.0,377.1 291.5,381.7 C292.0,386.3 292.3,388.8 293.4,395.0 C294.4,401.2 297.1,415.2 297.8,419.2" stroke-width="4.35" fill="none" />
<path d="M303.0,314.6 C304.4,315.9 309.5,319.1 311.6,322.3 C313.7,325.5 314.9,329.5 315.5,333.8 C316.1,338.1 316.3,343.3 315.5,348.1 C314.7,352.9 312.9,359.1 310.7,362.5 C308.4,365.9 304.7,367.3 302.0,368.3 C299.3,369.3 295.7,368.3 294.4,368.3" stroke-width="3.48" fill="none" />
<path d="M312.6,322.3 C313.9,323.4 318.2,326.3 320.3,329.0 C322.4,331.7 324.2,334.6 325.1,338.6 C326.1,342.6 326.0,348.2 326.0,353.0 C326.0,357.8 325.4,362.5 325.1,367.3 C324.8,372.1 324.1,377.7 324.1,381.7 C324.1,385.7 324.9,389.7 325.1,391.3" stroke-width="3.48" fill="none" />
<path d="M328.0,317.5 C328.9,318.6 332.3,321.2 333.7,324.2 C335.1,327.2 336.1,330.9 336.6,335.7 C337.1,340.5 337.1,348.5 336.6,353.0 C336.1,357.5 334.7,359.3 333.7,362.5 C332.7,365.7 331.6,368.9 330.8,372.1 C330.0,375.3 329.4,378.5 328.9,381.7 C328.4,384.9 328.1,389.7 327.9,391.3" stroke-width="3.48" fill="none" />
<ellipse cx="341.3" cy="344.4" rx="3.8" ry="8.8" transform="rotate(0 341.3 344.4)" stroke-width="2.61" fill="none" />
<path d="M295.3,372.1 C298.7,372.4 311.3,372.4 315.5,374.0 C319.7,375.6 319.5,380.4 320.3,381.7" stroke-width="2.61" fill="none" />
<path d="M299.2,379.8 C300.0,379.5 301.6,377.6 304.0,377.9 C306.4,378.2 311.2,379.8 313.6,381.7 C316.0,383.6 317.6,388.1 318.4,389.4" stroke-width="2.61" fill="none" />
<path d="M181.0,402.5 L202.0,402.3 L205.5,404.5 L207.0,411.5 L205.5,418.5 L202.0,420.5 L181.0,420.8Z" stroke-width="3.48" fill="#fff" />
<line x1="185" y1="403.5" x2="186.5" y2="419.5" stroke-width="3.19" />
<line x1="189" y1="403.5" x2="190.5" y2="419.5" stroke-width="3.19" />
<line x1="193" y1="403.5" x2="194.5" y2="419.5" stroke-width="3.19" />
<line x1="197" y1="403.5" x2="198.5" y2="419.5" stroke-width="3.19" />
<line x1="201" y1="403.5" x2="202.5" y2="419.5" stroke-width="3.19" />
<ellipse cx="172" cy="409.7" rx="9.5" ry="23.8" transform="rotate(0 172 409.7)" stroke-width="3.77" fill="#fff" />
<ellipse cx="168.5" cy="409.7" rx="8.5" ry="22.5" transform="rotate(0 168.5 409.7)" stroke-width="2.90" fill="#fff" />
<ellipse cx="165.5" cy="410" rx="6.5" ry="19" transform="rotate(0 165.5 410)" stroke-width="2.61" fill="none" />
<path d="M168.0,421.0 C168.5,421.5 170.2,422.5 171.0,424.0 C171.8,425.5 172.2,429.0 172.5,430.0" stroke-width="2.90" fill="none" />
<ellipse cx="150" cy="411" rx="14.8" ry="20.4" transform="rotate(0 150 411)" stroke-width="3.77" fill="#fff" />
<path d="M160.0,395.0 C160.6,396.7 162.9,401.2 163.5,405.0 C164.1,408.8 164.2,414.2 163.5,418.0 C162.8,421.8 159.8,426.3 159.0,428.0" stroke-width="2.90" fill="none" />
<path d="M148.0,400.0 L150.0,408.0 L148.0,417.0" stroke-width="4.35" fill="none" />
<path d="M141.0,409.0 L148.0,410.0 L155.0,410.5" stroke-width="4.35" fill="none" />
<path d="M143.0,402.0 L141.0,406.0" stroke-width="3.62" fill="none" />
<path d="M142.0,416.0 L145.0,420.0" stroke-width="3.62" fill="none" />
<ellipse cx="155" cy="416" rx="1.5" ry="3" transform="rotate(0 155 416)" stroke-width="2.90" fill="none" />
<ellipse cx="237.2" cy="510.6" rx="17.5" ry="12.5" transform="rotate(45 237.2 510.6)" stroke-width="4.06" fill="#fff" />
<ellipse cx="239" cy="508.5" rx="10" ry="5.5" transform="rotate(45 239 508.5)" stroke-width="3.19" fill="none" />
<ellipse cx="239.5" cy="508" rx="5" ry="2.5" transform="rotate(45 239.5 508)" stroke-width="0.00" fill="#000" />
<line x1="224.2" y1="519.6" x2="216.8" y2="528.2" stroke-width="2.61" />
<ellipse cx="204.2" cy="539" rx="32.5" ry="23" transform="rotate(42 204.2 539)" stroke-width="4.06" fill="#fff" />
<ellipse cx="209" cy="536.5" rx="9" ry="6" transform="rotate(40 209 536.5)" stroke-width="0.00" fill="#000" />
<ellipse cx="210" cy="537.5" rx="3.5" ry="2" transform="rotate(40 210 537.5)" stroke-width="0.00" fill="#fff" />
<line x1="198" y1="527" x2="218" y2="546" stroke-width="2.90" />
<ellipse cx="203" cy="532" rx="1.2" ry="1.2" transform="rotate(0 203 532)" stroke-width="0.00" fill="#fff" />
<ellipse cx="189" cy="521.5" rx="1.5" ry="1.5" transform="rotate(0 189 521.5)" stroke-width="0.00" fill="#000" />
<ellipse cx="194" cy="520" rx="1.8" ry="1.8" transform="rotate(0 194 520)" stroke-width="0.00" fill="#000" />
<path d="M208.8,579.5 C211.0,578.0 216.1,573.3 221.9,570.7 C227.7,568.1 236.5,565.4 243.8,564.1 C251.1,562.8 258.5,562.6 265.8,563.0 C273.1,563.4 280.4,564.8 287.7,566.3 C295.0,567.8 302.3,570.5 309.6,571.8 C316.9,573.1 325.6,574.5 331.5,574.0 C337.4,573.5 340.1,571.4 344.7,568.5 C349.3,565.6 353.6,559.2 359.2,556.4 C364.8,553.6 372.3,552.6 378.4,551.6 C384.5,550.6 393.1,550.7 396.0,550.5" stroke-width="3.77" fill="none" />
<path d="M213.2,587.1 C215.4,586.2 221.2,583.4 226.3,581.6 C231.4,579.8 237.2,577.3 243.8,576.2 C250.4,575.1 258.5,574.7 265.8,575.1 C273.1,575.5 280.4,577.0 287.7,578.4 C295.0,579.8 303.0,582.5 309.6,583.8 C316.2,585.1 321.6,586.2 327.1,586.0 C332.6,585.8 337.1,585.1 342.5,582.7 C347.9,580.3 353.6,574.1 359.2,571.8 C364.8,569.5 370.6,570.0 376.4,568.9 C382.2,567.8 391.1,565.6 394.0,565.0" stroke-width="3.77" fill="none" />
<path d="M174.2,589.3 C176.9,586.4 183.7,588.0 190.0,587.5 C196.3,587.0 208.1,584.3 212.0,586.0 C215.9,587.7 214.5,593.7 213.7,597.5 C212.9,601.3 210.9,606.6 207.1,609.0 C203.3,611.4 194.4,611.1 190.7,612.0 C187.0,612.9 187.4,614.3 185.0,614.5 C182.6,614.7 177.9,614.6 176.0,613.0 C174.1,611.4 173.8,609.0 173.5,605.0 C173.2,601.0 171.4,592.2 174.2,589.3Z" stroke-width="3.48" fill="#fff" />
<ellipse cx="182.5" cy="608" rx="6.5" ry="5.5" transform="rotate(0 182.5 608)" stroke-width="3.48" fill="#fff" />
<path d="M190.7,602.0 L204.0,594.5 L207.1,600.0 L195.0,609.0Z" stroke-width="3.48" fill="#fff" />
<path d="M148.8,564.7 C149.3,563.8 150.5,560.1 152.0,559.0 C153.5,557.9 152.8,553.8 157.8,558.1 C162.8,562.4 178.1,578.9 182.0,585.0 C185.9,591.1 182.0,592.8 181.0,595.0 C180.0,597.2 180.7,602.2 176.0,598.0 C171.3,593.8 157.4,575.1 152.9,569.6 C148.4,564.1 149.5,565.5 148.8,564.7 C148.1,563.9 148.3,565.7 148.8,564.7Z" stroke-width="3.48" fill="#fff" />
<line x1="153.5" y1="563" x2="177" y2="590" stroke-width="2.32" />
<path d="M169.3,551.5 C169.8,550.8 170.9,547.7 172.0,547.0 C173.1,546.3 172.5,543.1 175.9,547.4 C179.3,551.7 189.8,567.0 192.3,572.9 C194.8,578.8 192.1,580.9 190.7,582.7 C189.3,584.5 187.4,587.7 184.1,583.6 C180.8,579.5 173.5,563.5 171.0,558.1 C168.5,552.8 169.6,552.6 169.3,551.5 C169.0,550.4 168.9,552.2 169.3,551.5Z" stroke-width="3.48" fill="#fff" />
<line x1="174" y1="553" x2="187" y2="575" stroke-width="2.32" />
<ellipse cx="148" cy="593.4" rx="20" ry="22" transform="rotate(25 148 593.4)" stroke-width="4.06" fill="#fff" />
<ellipse cx="151.6" cy="590" rx="5" ry="6.8" transform="rotate(25 151.6 590)" stroke-width="3.19" fill="none" />
<line x1="151.6" y1="583.5" x2="151.6" y2="596.5" stroke-width="2.32" />
<ellipse cx="122" cy="618.5" rx="12.8" ry="13.5" transform="rotate(30 122 618.5)" stroke-width="4.06" fill="#fff" />
<ellipse cx="124.5" cy="617.5" rx="7.5" ry="8" transform="rotate(30 124.5 617.5)" stroke-width="3.19" fill="none" />
<path d="M121.0,612.0 L127.0,614.0 L129.0,620.0 L126.0,623.0" stroke-width="3.48" fill="none" />
<path d="M77.0,636.6 L85.8,630.1 L96.8,629.5 L106.6,636.6 L111.0,646.5 L108.8,656.4 L100.1,664.0 L89.1,664.6 L79.2,658.6 L75.4,647.6Z" stroke-width="4.06" fill="#fff" />
<ellipse cx="98.4" cy="642" rx="7.5" ry="7.5" transform="rotate(0 98.4 642)" stroke-width="3.19" fill="none" />
<ellipse cx="98.8" cy="642.5" rx="3.5" ry="3.8" transform="rotate(0 98.8 642.5)" stroke-width="2.90" fill="none" />
<path d="M79.2,646.5 L86.0,645.0 L90.5,650.0" stroke-width="2.90" fill="none" />
<line x1="86.5" y1="631" x2="85.5" y2="645" stroke-width="2.90" />
<path d="M94.6,659.7 L99.0,654.0 L106.6,654.2" stroke-width="2.90" fill="none" />
<path d="M366.4,504.7 C367.0,503.8 368.4,500.4 370.0,499.5 C371.6,498.6 374.3,498.4 376.0,499.0 C377.7,499.6 376.8,496.2 380.0,503.0 C383.2,509.8 390.0,525.5 395.0,540.0 C400.0,554.5 406.9,579.5 410.0,590.0 C413.1,600.5 413.3,600.2 413.3,603.0 C413.3,605.8 411.6,606.5 410.0,607.0 C408.4,607.5 405.8,607.5 404.0,606.0 C402.2,604.5 402.3,606.5 399.0,598.0 C395.7,589.5 389.2,569.2 384.0,555.0 C378.8,540.8 370.9,521.4 368.0,513.0 C365.1,504.6 366.7,506.1 366.4,504.7 C366.1,503.3 365.8,505.6 366.4,504.7Z" stroke-width="3.19" fill="none" />
<path d="M372.0,505.0 C374.2,510.8 380.8,528.3 385.0,540.0 C389.2,551.7 393.3,565.0 397.0,575.0 C400.7,585.0 405.3,595.8 407.0,600.0" stroke-width="2.61" fill="none" />
<path d="M534.8,492.9 C540.7,491.7 558.7,487.9 570.0,485.5 C581.3,483.1 596.2,479.7 602.7,478.6 C609.2,477.5 607.3,478.3 609.0,479.0 C610.7,479.7 611.9,480.8 613.0,483.0 C614.1,485.2 615.6,488.3 615.9,492.0 C616.2,495.7 616.0,499.5 615.0,505.0 C614.0,510.5 612.2,518.3 610.0,525.0 C607.8,531.7 604.5,538.8 602.0,545.0 C599.5,551.2 597.1,557.0 595.0,562.0 C592.9,567.0 592.9,572.2 589.6,575.0 C586.3,577.8 580.8,577.7 575.0,579.0 C569.2,580.3 561.0,582.0 555.0,583.0 C549.0,584.0 541.8,584.7 539.2,585.0" stroke-width="3.48" fill="#fff" />
<path d="M606.0,480.0 C606.7,481.2 609.2,483.7 610.0,487.0 C610.8,490.3 611.5,494.2 611.0,500.0 C610.5,505.8 609.2,514.0 607.0,522.0 C604.8,530.0 601.2,540.0 598.0,548.0 C594.8,556.0 589.7,566.3 588.0,570.0" stroke-width="2.61" fill="none" />
<path d="M411.4,512.6 L470,503.4 L530,495.2 L530,582.5 L470,593.4 L419.6,596.4 C410,592 402,582 399.5,571.8 C397,560 397,548 398.2,539 C399.5,528 404,518 411.4,512.6 Z" stroke-width="3.77" fill="#fff"/>
<ellipse cx="530.4" cy="538.8" rx="28" ry="43.5" transform="rotate(-4 530.4 538.8)" stroke-width="3.77" fill="#fff" />
<ellipse cx="584" cy="509" rx="10" ry="22" transform="rotate(-8 584 509)" stroke-width="6.52" fill="#fff" />
<ellipse cx="584" cy="509" rx="5" ry="17" transform="rotate(-8 584 509)" stroke-width="2.32" fill="none" />
<ellipse cx="566" cy="508.5" rx="10" ry="15" transform="rotate(-8 566 508.5)" stroke-width="3.77" fill="#fff" />
<path d="M561.0,500.0 L567.0,497.5 L570.0,503.0 L565.0,509.0 L569.0,515.0" stroke-width="3.48" fill="none" />
<line x1="562" y1="510" x2="570" y2="512" stroke-width="2.90" />
<path d="M340.0,566.0 L350.0,561.0 L365.0,554.0 L380.0,551.0 L396.0,550.5 L394.0,565.0 L376.4,568.9 L359.2,571.8 L342.5,582.7 L331.5,574.0Z" stroke-width="0.00" fill="#fff" stroke="none"/>
<path d="M331.5,574.0 C333.7,573.1 340.1,571.4 344.7,568.5 C349.3,565.6 353.6,559.2 359.2,556.4 C364.8,553.6 372.3,552.6 378.4,551.6 C384.5,550.6 393.1,550.7 396.0,550.5" stroke-width="3.77" fill="none" />
<path d="M327.1,586.0 C329.7,585.5 337.1,585.1 342.5,582.7 C347.9,580.3 353.6,574.1 359.2,571.8 C364.8,569.5 370.6,570.0 376.4,568.9 C382.2,567.8 391.1,565.6 394.0,565.0" stroke-width="3.77" fill="none" />
<path d="M318.0,578.0 C320.0,578.0 326.0,578.7 330.0,578.0 C334.0,577.3 338.3,576.0 342.0,574.0 C345.7,572.0 348.7,568.3 352.0,566.0 C355.3,563.7 360.3,561.0 362.0,560.0" stroke-width="5.08" fill="none" />
<path d="M305.3,512.5 L319.7,525.5 L335.5,511.8" stroke-width="3.19" fill="none" />
<ellipse cx="298.5" cy="503.6" rx="1.3" ry="1.3" transform="rotate(0 298.5 503.6)" stroke-width="0.00" fill="#000" />
<ellipse cx="340.3" cy="507" rx="1.5" ry="1.5" transform="rotate(0 340.3 507)" stroke-width="0.00" fill="#000" />
<line x1="345.8" y1="500.1" x2="349" y2="497.5" stroke-width="2.90" />
<line x1="354.7" y1="490.5" x2="362.2" y2="486.4" stroke-width="2.90" />
<ellipse cx="380.3" cy="469" rx="27" ry="31" transform="rotate(-35 380.3 469)" stroke-width="3.62" fill="#fff" />
<ellipse cx="384" cy="465" rx="8" ry="5" transform="rotate(35 384 465)" stroke-width="2.61" fill="none" />
<ellipse cx="384.5" cy="465" rx="4.5" ry="2.6" transform="rotate(35 384.5 465)" stroke-width="0.00" fill="#000" />
<line x1="371" y1="452" x2="377" y2="459" stroke-width="2.32" />
<line x1="389" y1="468" x2="397" y2="475" stroke-width="2.32" />
<line x1="391" y1="461" x2="398" y2="455" stroke-width="2.03" />
<line x1="392" y1="462" x2="404" y2="452" stroke-width="2.90" />
<ellipse cx="69.5" cy="241.9" rx="2.2" ry="1.2" transform="rotate(0 69.5 241.9)" stroke-width="0.00" fill="#000" />
<ellipse cx="409.9" cy="108.8" rx="1.1" ry="1.1" transform="rotate(0 409.9 108.8)" stroke-width="0.00" fill="#000" />
<ellipse cx="687.1" cy="587" rx="2" ry="1.2" transform="rotate(0 687.1 587)" stroke-width="0.00" fill="#000" />
<ellipse cx="311.6" cy="653.6" rx="2" ry="1.3" transform="rotate(-10 311.6 653.6)" stroke-width="0.00" fill="#000" />
</g>
</svg>
</body></html>
